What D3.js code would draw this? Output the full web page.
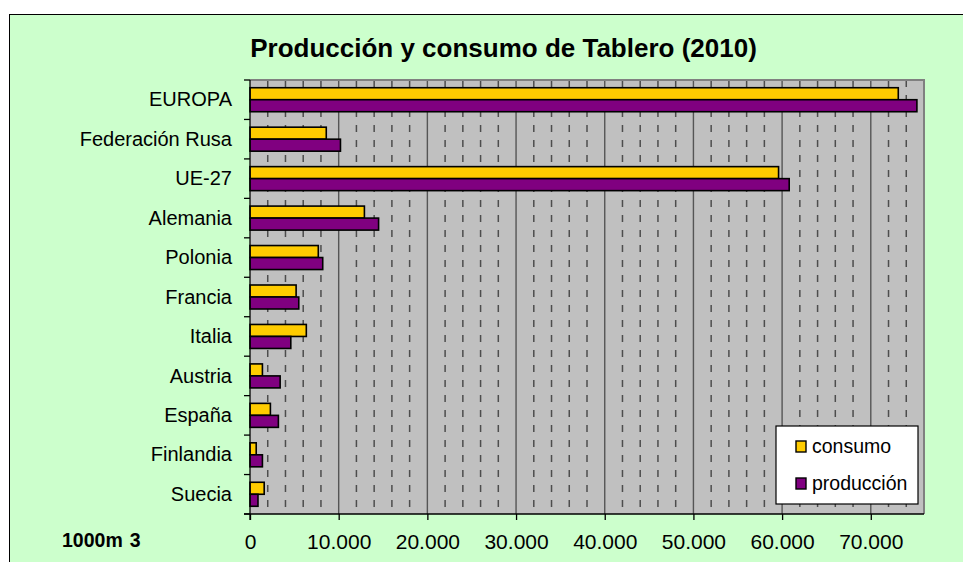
<!DOCTYPE html>
<html>
<head>
<meta charset="utf-8">
<script src="https://cdn.jsdelivr.net/npm/d3@7"></script>
<style>
  body { margin: 0; background: #fff; }
  svg { display: block; font-family: "Liberation Sans", Arial, sans-serif; }
</style>
</head>
<body>
<svg id="chart" width="963" height="562"></svg>
<script>
var countries = ["EUROPA", "Federación Rusa", "UE-27", "Alemania", "Polonia", "Francia",
                 "Italia", "Austria", "España", "Finlandia", "Suecia"];
var consumo    = [73100, 8600, 59600, 12900, 7700, 5200, 6350, 1400, 2300, 700, 1600];
var produccion = [75200, 10200, 60800, 14500, 8200, 5500, 4600, 3400, 3200, 1400, 900];
var series = ["consumo", "producción"];
var colors = ["#FFCC00", "#800080"];
var xTicks = [0, 10000, 20000, 30000, 40000, 50000, 60000, 70000];

var svg = d3.select("#chart");

var pLeft = 250, pRight = 924, pTop = 80, pBottom = 514;

// green frame
svg.append("rect")
    .attr("x", 9.5).attr("y", 14.5)
    .attr("width", 1000).attr("height", 600)
    .attr("fill", "#CCFFCC")
    .attr("stroke", "#000")
    .attr("stroke-width", 1);

svg.append("text")
    .attr("x", 503.5).attr("y", 57)
    .attr("text-anchor", "middle")
    .attr("font-size", 26)
    .attr("font-weight", "bold")
    .text("Producción y consumo de Tablero (2010)");

var x = d3.scaleLinear().domain([0, 76000]).range([pLeft, pRight]);
var y = d3.scaleBand().domain(countries).range([pTop, pBottom]);
var sub = d3.scaleBand().domain(series).range([0, 24]);
var barOffset = (y.bandwidth() - 24) / 2;

// plot background
svg.append("rect")
    .attr("x", pLeft).attr("y", pTop)
    .attr("width", pRight - pLeft).attr("height", pBottom - pTop)
    .attr("fill", "#C0C0C0");

// minor gridlines (dashed)
var minor = d3.range(2000, 76000, 2000).filter(function(v) { return v % 10000 != 0; });
svg.append("g").selectAll("line")
    .data(minor)
  .enter().append("line")
    .attr("x1", function(d) { return x(d); })
    .attr("x2", function(d) { return x(d); })
    .attr("y1", pTop).attr("y2", pBottom)
    .attr("stroke", "#4d4d4d")
    .attr("stroke-width", 1.5)
    .attr("stroke-dasharray", "7,8");

// major gridlines
svg.append("g").selectAll("line")
    .data(xTicks.slice(1))
  .enter().append("line")
    .attr("x1", function(d) { return x(d); })
    .attr("x2", function(d) { return x(d); })
    .attr("y1", pTop).attr("y2", pBottom)
    .attr("stroke", "#555")
    .attr("stroke-width", 1.4);

// plot border
svg.append("path")
    .attr("d", "M" + pLeft + "," + pTop + "H" + pRight + "V" + pBottom)
    .attr("fill", "none")
    .attr("stroke", "#808080")
    .attr("stroke-width", 2);

// bars
var rows = svg.append("g").selectAll("g")
    .data(countries)
  .enter().append("g")
    .attr("transform", function(d) { return "translate(0," + (y(d) + barOffset) + ")"; });

rows.selectAll("rect")
    .data(function(d, i) { return [consumo[i], produccion[i]]; })
  .enter().append("rect")
    .attr("x", x(0))
    .attr("y", function(d, j) { return sub(series[j]); })
    .attr("width", function(d) { return x(d) - x(0); })
    .attr("height", sub.bandwidth())
    .attr("fill", function(d, j) { return colors[j]; })
    .attr("stroke", "#000")
    .attr("stroke-width", 1.6);

// axes
var xAxis = svg.append("g")
    .attr("transform", "translate(0," + pBottom + ")")
    .call(d3.axisBottom(x).tickValues(xTicks).tickSize(6).tickPadding(14)
      .tickFormat(function(d) { return d3.format(",")(d).replace(/,/g, "."); }));
xAxis.select(".domain").remove();
xAxis.selectAll("line").attr("stroke", "#000").attr("stroke-width", 1.3);
xAxis.selectAll("text")
    .attr("font-size", 21)
    .attr("font-family", "Liberation Sans, Arial, sans-serif")
    .attr("fill", "#000");

svg.append("line")
    .attr("x1", pLeft - 6).attr("x2", pRight)
    .attr("y1", pBottom).attr("y2", pBottom)
    .attr("stroke", "#000").attr("stroke-width", 1.3);
svg.append("line")
    .attr("x1", pLeft).attr("x2", pLeft)
    .attr("y1", pTop).attr("y2", pBottom + 6)
    .attr("stroke", "#000").attr("stroke-width", 1.3);

// category ticks on band boundaries
svg.append("g").selectAll("line")
    .data(d3.range(countries.length + 1))
  .enter().append("line")
    .attr("x1", pLeft - 6).attr("x2", pLeft)
    .attr("y1", function(i) { return pTop + i * y.step(); })
    .attr("y2", function(i) { return pTop + i * y.step(); })
    .attr("stroke", "#000").attr("stroke-width", 1.3);

svg.append("g").selectAll("text")
    .data(countries)
  .enter().append("text")
    .attr("x", 232)
    .attr("y", function(d) { return y(d) + y.bandwidth() / 2; })
    .attr("dy", "0.33em")
    .attr("text-anchor", "end")
    .attr("font-size", 20)
    .text(function(d) { return d; });

// unit label
var unit = svg.append("text")
    .attr("x", 62).attr("y", 547)
    .attr("font-size", 19.5)
    .attr("font-weight", "bold");
unit.append("tspan").text("1000m");
unit.append("tspan").attr("dx", 7).text("3");

// legend
var legend = svg.append("g");
legend.append("rect")
    .attr("x", 776).attr("y", 426)
    .attr("width", 142).attr("height", 78)
    .attr("fill", "#fff")
    .attr("stroke", "#000")
    .attr("stroke-width", 1.2);

var item = legend.selectAll(".item")
    .data(series)
  .enter().append("g")
    .attr("class", "item")
    .attr("transform", function(d, i) { return "translate(796," + (441 + i * 37) + ")"; });

item.append("rect")
    .attr("width", 10).attr("height", 11)
    .attr("fill", function(d, i) { return colors[i]; })
    .attr("stroke", "#000")
    .attr("stroke-width", 1.4);

item.append("text")
    .attr("x", 16).attr("y", 12)
    .attr("font-size", 19.5)
    .text(function(d) { return d; });
</script>
</body>
</html>
